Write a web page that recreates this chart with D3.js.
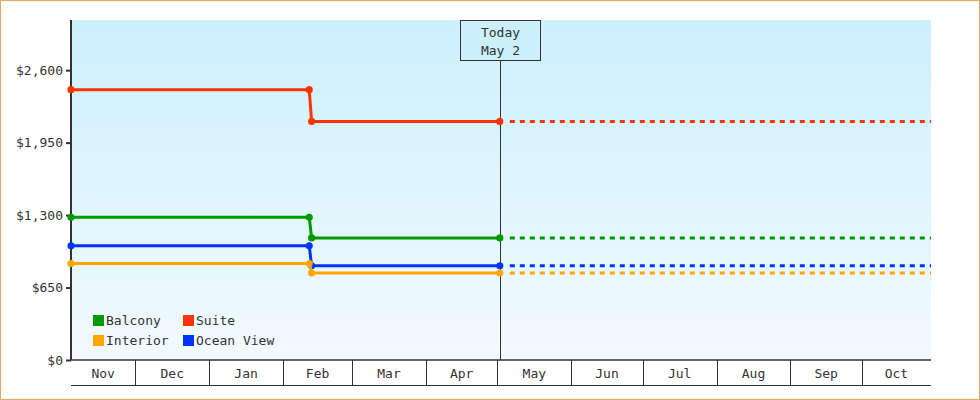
<!DOCTYPE html>
<html><head><meta charset="utf-8">
<script src="https://cdn.jsdelivr.net/npm/d3@7"></script>
<style>
body{margin:0;background:#fff}
svg{display:block}
text{font-family:"DejaVu Sans Mono",monospace;font-size:13px;fill:#333}
</style></head><body>
<div id="chart"></div>
<script>
var seriesNames = ["Balcony", "Suite", "Interior", "Ocean View"];
var seriesColors = ["#009900", "#ff3300", "#ffa500", "#0033ff"];
var pointDates = ["2023-11-04", "2024-02-12", "2024-02-13", "2024-05-02"];
var balcony = [1280, 1280, 1095, 1095];
var suite = [2425, 2425, 2140, 2140];
var interior = [865, 865, 780, 780];
var oceanView = [1025, 1025, 845, 845];
var yTicks = [0, 650, 1300, 1950, 2600];
var monthStarts = ["2023-11-04","2023-12-01","2024-01-01","2024-02-01","2024-03-01","2024-04-01","2024-05-01","2024-06-01","2024-07-01","2024-08-01","2024-09-01","2024-10-01","2024-10-30"];
var monthLabels = ["Nov","Dec","Jan","Feb","Mar","Apr","May","Jun","Jul","Aug","Sep","Oct"];
var todayDate = "2024-05-02";
var endDate = "2024-10-30";

var W = 980, H = 400;
var pLeft = 71, pRight = 931, pTop = 20, pBottom = 360;
var parse = d3.timeParse("%Y-%m-%d");

var svg = d3.select("#chart").append("svg").attr("width", W).attr("height", H);

var grad = svg.append("defs").append("linearGradient")
    .attr("id", "bg").attr("x1", 0).attr("y1", 0).attr("x2", 0).attr("y2", 1);
grad.append("stop").attr("offset", "0%").attr("stop-color", "#ccf0fc");
grad.append("stop").attr("offset", "100%").attr("stop-color", "#f2faff");

svg.append("rect").attr("x", 0.5).attr("y", 0.5).attr("width", W - 1).attr("height", H - 1)
    .attr("fill", "#fff").attr("stroke", "#e8a860");
svg.append("rect").attr("x", pLeft).attr("y", pTop).attr("width", pRight - pLeft).attr("height", pBottom - pTop)
    .attr("fill", "url(#bg)");

var x = d3.scaleTime().domain([parse(monthStarts[0]), parse(endDate)]).range([pLeft, pRight]);
var y = d3.scaleLinear().domain([0, 3050]).range([pBottom, pTop]);

// y axis
var yAxis = svg.append("g").attr("transform", "translate(" + pLeft + ",0)")
    .call(d3.axisLeft(y).tickValues(yTicks).tickSize(5).tickPadding(3)
        .tickFormat(function(d) { return "$" + d3.format(",")(d); }));
yAxis.select(".domain").attr("stroke", "#333").attr("stroke-width", 2).attr("d", "M0," + pTop + "V" + pBottom);
yAxis.selectAll(".tick line").attr("stroke", "#333").attr("stroke-width", 2);
yAxis.selectAll("text").style("font-family", "DejaVu Sans Mono").style("font-size", "13px").attr("fill", "#333");

// month axis
var mAxis = svg.append("g");
mAxis.append("line").attr("x1", pLeft).attr("x2", pRight).attr("y1", pBottom).attr("y2", pBottom).attr("stroke", "#333").attr("stroke-width", 1.5);
mAxis.append("line").attr("x1", pLeft).attr("x2", pRight).attr("y1", 385.5).attr("y2", 385.5).attr("stroke", "#333");
monthStarts.slice(1, -1).forEach(function(d) {
    var xx = Math.round(x(parse(d))) + 0.5;
    mAxis.append("line").attr("x1", xx).attr("x2", xx).attr("y1", pBottom).attr("y2", 385).attr("stroke", "#333");
});
monthLabels.forEach(function(m, i) {
    var cx = (x(parse(monthStarts[i])) + x(parse(monthStarts[i + 1]))) / 2;
    mAxis.append("text").attr("x", cx).attr("y", 378).attr("text-anchor", "middle").text(m);
});

// today line
var tx = Math.round(x(parse(todayDate))) + 0.5;
svg.append("line").attr("x1", tx).attr("x2", tx).attr("y1", 60).attr("y2", pBottom).attr("stroke", "#333");
svg.append("rect").attr("x", tx - 40).attr("y", 20.5).attr("width", 80).attr("height", 40)
    .attr("fill", "#ccf0fc").attr("stroke", "#333");
svg.append("text").attr("x", tx).attr("y", 37).attr("text-anchor", "middle").text("Today");
svg.append("text").attr("x", tx).attr("y", 55).attr("text-anchor", "middle").text("May 2");

// series
var allSeries = [balcony, suite, interior, oceanView];
var dates = pointDates.map(parse);
var line = d3.line().x(function(d, i) { return x(dates[i]); }).y(function(d) { return y(d); });
var drawOrder = [3, 2, 0, 1];
drawOrder.forEach(function(k) {
    var vals = allSeries[k], col = seriesColors[k];
    svg.append("path").attr("d", line(vals)).attr("fill", "none").attr("stroke", col).attr("stroke-width", 3);
    var last = vals[vals.length - 1];
    svg.append("line").attr("x1", x(parse(todayDate)) + 10).attr("x2", pRight)
        .attr("y1", y(last)).attr("y2", y(last))
        .attr("stroke", col).attr("stroke-width", 3).attr("stroke-dasharray", "5,5");
    svg.selectAll(null).data(vals).enter().append("path")
        .attr("transform", function(d, i) { return "translate(" + x(dates[i]) + "," + y(d) + ")"; })
        .attr("d", d3.symbol().type(d3.symbolCircle).size(40))
        .attr("fill", col);
});

// legend
var legPos = [[93, 320], [183, 320], [93, 340], [183, 340]];
seriesNames.forEach(function(n, i) {
    var g = svg.append("g").attr("transform", "translate(" + legPos[i][0] + "," + legPos[i][1] + ")");
    g.append("rect").attr("x", 0).attr("y", -5).attr("width", 11).attr("height", 11).attr("fill", seriesColors[i]);
    g.append("text").attr("x", 13).attr("y", 5).text(n);
});
</script>
</body></html>
